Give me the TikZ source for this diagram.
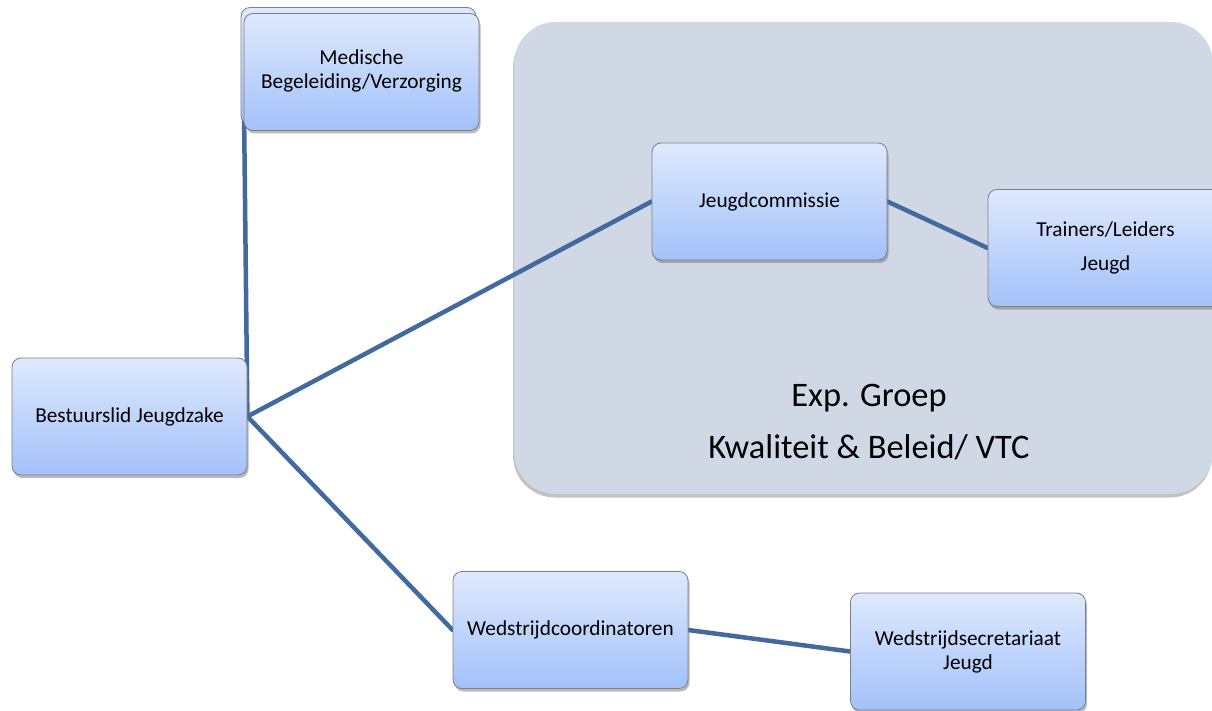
\documentclass[tikz,border=0pt]{standalone}
\usepackage{fontspec}
\setmainfont{Carlito}
\usetikzlibrary{shadows}
\definecolor{linec}{HTML}{436A9E}
\definecolor{topc}{HTML}{DEE9FD}
\definecolor{botc}{HTML}{A3C1FA}
\definecolor{edgec}{HTML}{7B7F86}
\definecolor{grpc}{HTML}{D0D8E6}
\pgfdeclarelayer{back}
\pgfdeclarelayer{mid}
\pgfsetlayers{back,mid,main}
\begin{document}
\begin{tikzpicture}[x=1pt,y=-1pt,
  box/.style={draw=edgec, line width=0.8pt, rounded corners=9pt,
    minimum width=235pt, minimum height=117pt, top color=topc, bottom color=botc,
    align=center, font=\fontsize{21.3}{24}\selectfont, inner sep=0pt,
    drop shadow={shadow xshift=1.5pt, shadow yshift=-3pt, opacity=0.45, fill=black!60}},
  grpbox/.style={fill=grpc, rounded corners=42pt, minimum width=699pt, minimum height=472pt,
    inner sep=0pt, drop shadow={shadow xshift=-1pt, shadow yshift=-3.5pt, opacity=0.4, fill=black!60}},
  bigtext/.style={font=\fontsize{34.4}{40}\selectfont, inner sep=0pt},
  conn/.style={linec, line width=4.5pt, line cap=round}]
\useasboundingbox (0,0) rectangle (1212,711);
\begin{pgfonlayer}{back}
  \node[grpbox] (grp) at (863.5,258) {};
\end{pgfonlayer}
\node[bigtext] (t1) at (869,398) {Exp. Groep};
\node[bigtext] (t2) at (869,447) {Kwaliteit \& Beleid/ VTC};

\node[box] (bj) at (129.5,416.5) {Bestuurslid Jeugdzake};
\node[box] (medback) at (358.5,66) {};
\node[box] (med) at (361.5,72) {\raisebox{-3pt}{\begin{tabular}{@{}c@{}}Medische\\Begeleiding/Verzorging\end{tabular}}};
\node[box] (jc) at (769.5,201.5) {Jeugdcommissie};
\node[box] (tl) at (1105.5,248) {Trainers/Leiders\\[10pt]Jeugd};
\node[box] (wc) at (570.5,630) {Wedstrijdcoordinatoren};
\node[box] (ws) at (968,651.5) {Wedstrijdsecretariaat\\Jeugd};

\begin{pgfonlayer}{mid}
  \draw[conn] (bj.east) -- (med.west);
  \draw[conn] (bj.east) -- (jc.west);
  \draw[conn] (bj.east) -- (wc.west);
  \draw[conn] (jc.east) -- (tl.west);
  \draw[conn] (wc.east) -- (ws.west);
\end{pgfonlayer}
\end{tikzpicture}
\end{document}
